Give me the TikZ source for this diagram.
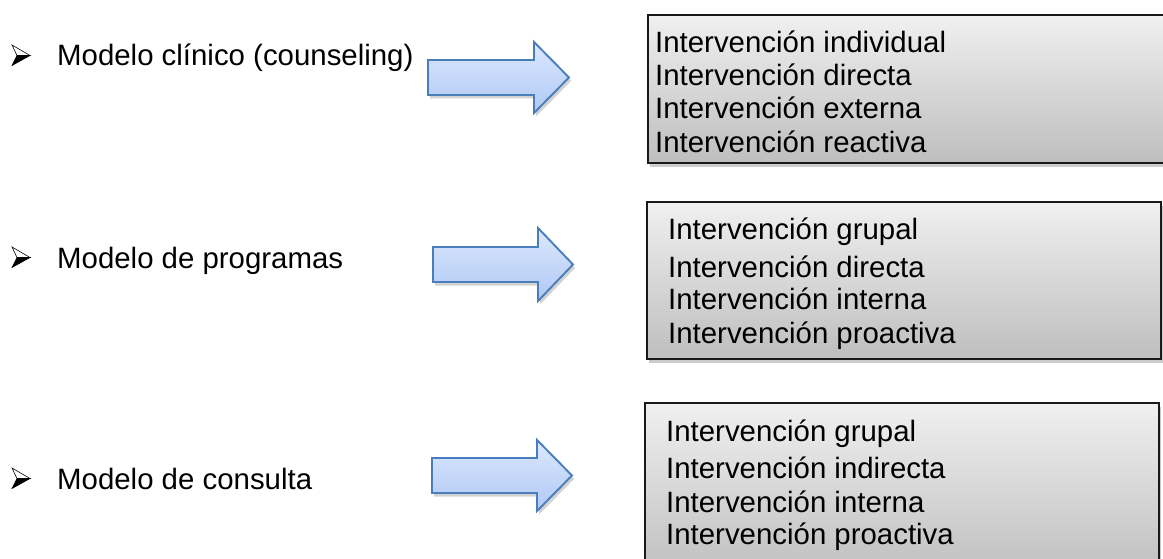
\documentclass[tikz,border=0pt]{standalone}
\usepackage{fontspec}
\setmainfont{Liberation Sans}
\usetikzlibrary{shadows}
\definecolor{arrowline}{HTML}{4A7EBB}
\definecolor{arrowtop}{HTML}{DCE8FE}
\definecolor{arrowbot}{HTML}{AFC8F4}
\definecolor{boxtop}{HTML}{F0F0F0}
\definecolor{boxbot}{HTML}{BEBEBE}
\tikzset{
  bigfont/.style={font=\fontsize{29.4}{33}\selectfont},
  lbl/.style={bigfont, anchor=base west, inner sep=0pt},
  panel/.style={draw=black!90, line width=1.8pt, top color=boxtop, bottom color=boxbot,
    drop shadow={shadow xshift=2pt, shadow yshift=-4pt, opacity=0.4},
    anchor=north west, inner sep=0pt},
  blockarrow/.style={draw=arrowline, line width=1.9pt, top color=arrowtop, bottom color=arrowbot,
    line join=miter, drop shadow={shadow xshift=2pt, shadow yshift=-3.5pt, opacity=0.35}},
  bulletup/.style={fill=white, draw=black, line width=0.6pt, line join=miter},
  bulletdown/.style={fill=black, draw=black, line width=0.6pt, line join=miter},
}
\newcommand{\mybullet}[1]{%
  \path[bulletup] (12,#1-21) -- (30,#1-10.5) -- (17,#1-10.5) -- cycle;
  \path[bulletdown] (17,#1-10.5) -- (30,#1-10.5) -- (12,#1-0.5) -- cycle;
}
\begin{document}
\begin{tikzpicture}[x=1pt,y=-1pt]
\useasboundingbox (0,0) rectangle (1163,559);
\clip (0,0) rectangle (1163,559);
\fill[white] (0,0) rectangle (1163,559);

% left labels
\mybullet{66}
\mybullet{268}
\mybullet{489}
\node[lbl] (m1) at (57,66) {Modelo clínico (counseling)};
\node[lbl] (m2) at (57,268) {Modelo de programas};
\node[lbl] (m3) at (57,489) {Modelo de consulta};

% block arrows
\path[blockarrow] (428,60) -- (534,60) -- (534,42) -- (569,77.5) -- (534,113) -- (534,95) -- (428,95) -- cycle;
\path[blockarrow] (433,247) -- (538,247) -- (538,228) -- (573,264.5) -- (538,301) -- (538,282) -- (433,282) -- cycle;
\path[blockarrow] (432,458) -- (537,458) -- (537,440) -- (572,475.5) -- (537,511) -- (537,493) -- (432,493) -- cycle;

% panels
\node[panel, minimum width=528pt, minimum height=148pt] (box1) at (647,14) {};
\node[panel, minimum width=514pt, minimum height=157pt] (box2) at (646,201) {};
\node[panel, minimum width=514pt, minimum height=175pt] (box3) at (644,402) {};

% panel texts
\node[lbl] (t11) at (655,53) {Intervención individual};
\node[lbl] (t12) at (655,86) {Intervención directa};
\node[lbl] (t13) at (655,119) {Intervención externa};
\node[lbl] (t14) at (655,153) {Intervención reactiva};

\node[lbl] (t21) at (668,240) {Intervención grupal};
\node[lbl] (t22) at (668,277) {Intervención directa};
\node[lbl] (t23) at (668,309) {Intervención interna};
\node[lbl] (t24) at (668,343) {Intervención proactiva};

\node[lbl] (t31) at (666,441) {Intervención grupal};
\node[lbl] (t32) at (666,478) {Intervención indirecta};
\node[lbl] (t33) at (666,512) {Intervención interna};
\node[lbl] (t34) at (666,544) {Intervención proactiva};
\end{tikzpicture}
\end{document}
